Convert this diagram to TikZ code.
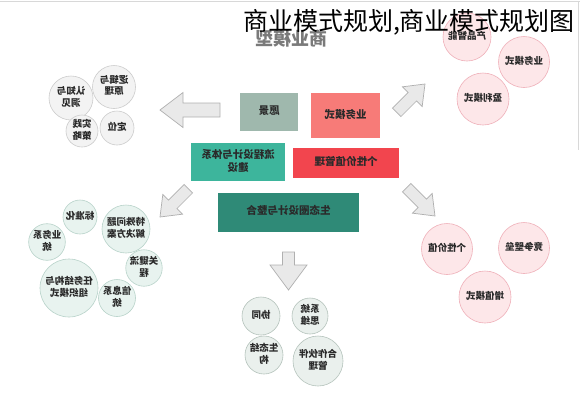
\documentclass[tikz,border=0pt]{standalone}
\usepackage{fontspec}
\usepackage{graphicx}
\newfontfamily\cjk{Noto Sans CJK SC}
\definecolor{txt}{HTML}{2A2A2A}
\definecolor{ttl}{HTML}{7A7A7A}
\definecolor{grayb}{HTML}{9FB8AD}
\definecolor{pinkb}{HTML}{F77B78}
\definecolor{tealb}{HTML}{3DB59C}
\definecolor{redb}{HTML}{F2454E}
\definecolor{dtealb}{HTML}{2F8A77}
\definecolor{lgd}{HTML}{CCCCCC}
\definecolor{lgf}{HTML}{F3F3F3}
\definecolor{pkd}{HTML}{EFB0B9}
\definecolor{pkf}{HTML}{FDE7E9}
\definecolor{gnd}{HTML}{B8D3CA}
\definecolor{gnf}{HTML}{E8F3EF}
\definecolor{btd}{HTML}{B5C3BC}
\definecolor{btf}{HTML}{EAF0ED}
\definecolor{arrd}{HTML}{B0B0B0}
\definecolor{arrf}{HTML}{E9E9E9}
\definecolor{frame}{HTML}{D8D8D8}
\newcommand\mtx[1]{\reflectbox{\renewcommand\arraystretch{0.95}\begin{tabular}{@{}c@{}}#1\end{tabular}}}
% x, y, angle, length, head length, head half width, shaft half width
\newcommand\blockarrow[7]{%
\begin{scope}[shift={(#1,#2)},rotate=#3]
\draw[barr] (0,0) -- (-#5,#6) -- (-#5,#7) -- (-#4,#7) -- (-#4,-#7) -- (-#5,-#7) -- (-#5,-#6) -- cycle;
\end{scope}}
\begin{document}
\begin{tikzpicture}[x=1pt,y=-1pt,
 box/.style={inner sep=0pt, font=\cjk\bfseries\fontsize{10.5}{13}\selectfont, text=txt},
 circ/.style={circle, inner sep=0pt, font=\cjk\bfseries\fontsize{9.5}{11.5}\selectfont, text=txt, line width=0.6pt},
 lgc/.style={circ, draw=lgd, fill=lgf},
 pkc/.style={circ, draw=pkd, fill=pkf},
 gnc/.style={circ, draw=gnd, fill=gnf},
 btc/.style={circ, draw=btd, fill=btf},
 barr/.style={draw=arrd, fill=arrf, line width=0.7pt, line join=miter}]
\useasboundingbox (0,0) rectangle (580,400);
\fill[white] (0,0) rectangle (580,400);
\draw[frame, line width=0.8pt] (0,1.5) -- (580,1.5);
\draw[frame, line width=0.8pt] (578,1.5) -- (578,150);

% mirrored grey heading
\node[font=\cjk\bfseries\fontsize{18}{18}\selectfont, text=ttl] (mtitle) at (291,39) {\reflectbox{商业模型}};

% central boxes
\node[box, fill=grayb, minimum width=58pt, minimum height=38pt] (vision) at (269,112) {\mtx{愿景}};
\node[box, fill=pinkb, minimum width=69pt, minimum height=45pt] (bizmode) at (345.5,115.5) {\mtx{业务模式}};
\node[box, fill=tealb, minimum width=94pt, minimum height=38pt] (process) at (238,162) {\mtx{流程设计与体系\\建设}};
\node[box, fill=redb, minimum width=106pt, minimum height=30pt] (value) at (346,163) {\mtx{个性价值管理}};
\node[box, fill=dtealb, minimum width=141pt, minimum height=39pt] (eco) at (288.5,212) {\mtx{生态圈设计与整合}};

% block arrows
\blockarrow{160}{110}{180}{60}{23}{17.5}{7}
\blockarrow{425}{84}{45}{40}{18}{14}{6}
\blockarrow{160}{217}{225}{40}{18}{14}{6}
\blockarrow{435}{216}{-45}{40}{18}{14}{6}
\blockarrow{288.5}{290}{-90}{38}{25}{18.5}{6}

% left group
\node[lgc, minimum size=44pt] (insight) at (71,98) {\mtx{认知与\\洞见}};
\node[lgc, minimum size=43pt] (logic) at (114,87) {\mtx{逻辑与\\原理}};
\node[lgc, minimum size=32pt] (practice) at (82,131) {\mtx{实践\\策略}};
\node[lgc, minimum size=34pt] (position) at (117,128) {\mtx{定位}};

% top-right group
\node[pkc, minimum size=48pt] (product) at (467,37) {\mtx{产品智能}};
\node[pkc, minimum size=51pt] (bizmodel) at (524,62) {\mtx{业务模式}};
\node[pkc, minimum size=52pt] (profit) at (483,99) {\mtx{盈利模式}};

% bottom-right group
\node[pkc, minimum size=51pt] (pvalue) at (447,249) {\mtx{个性价值}};
\node[pkc, minimum size=51pt] (barrier) at (524,248) {\mtx{竞争壁垒}};
\node[pkc, minimum size=52pt] (growth) at (485,297) {\mtx{增值模式}};

% bottom-left group
\node[gnc, minimum size=34pt] (standard) at (80,217) {\mtx{标准化}};
\node[gnc, minimum size=48pt] (special) at (126,229) {\mtx{特殊问题\\解决方案}};
\node[gnc, minimum size=34pt] (bizsys) at (47,242) {\mtx{业务系\\统}};
\node[gnc, minimum size=35pt] (keyflow) at (144,268) {\mtx{关键流\\程}};
\node[gnc, minimum size=58pt] (task) at (69,288) {\mtx{任务结构与\\组织模式}};
\node[gnc, minimum size=37pt] (infosys) at (117,298) {\mtx{信息系\\统}};

% bottom group
\node[btc, minimum size=38pt] (synergy) at (261,316) {\mtx{协同}};
\node[btc, minimum size=36pt] (systhink) at (310,316) {\mtx{系统\\思维}};
\node[btc, minimum size=38pt] (ecostruct) at (264,355) {\mtx{生态结\\构}};
\node[btc, minimum size=50pt] (partner) at (318,361) {\mtx{合作伙伴\\管理}};

% main title on top
\node[font=\cjk\fontsize{25}{25}\selectfont, text=black, inner sep=0pt] (title) at (409,22) {商业模式规划,商业模式规划图};
\end{tikzpicture}
\end{document}
